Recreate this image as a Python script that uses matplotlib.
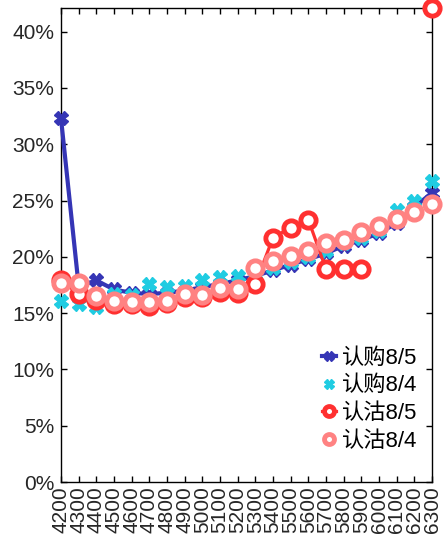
import numpy as np
import matplotlib
matplotlib.use("Agg")
import matplotlib.pyplot as plt
from matplotlib.ticker import FuncFormatter, MultipleLocator

plt.rcParams['font.family'] = ['Liberation Sans', 'Noto Sans CJK SC', 'DejaVu Sans']

strikes = list(range(4200, 6301, 100))
call_0805 = [32.3, 17.4, 17.9, 17.1, 16.8, 16.7, 16.8, 17.0, 17.3, 17.6, 17.9,
             18.3, 18.8, 19.3, 19.8, 20.3, 21.0, 21.5, 22.1, 23.0, 24.4, 25.7]
call_0804 = [16.1, 15.8, 15.5, 16.7, 16.6, 17.6, 17.3, 17.4, 17.9, 18.2, 18.3,
             18.5, 19.0, 19.5, 20.0, 20.5, 21.2, 21.7, 22.3, 24.2, 25.0, 26.7]
put_0805 = [17.9, 16.7, 16.2, 15.8, 15.8, 15.6, 15.9, 16.4, 16.4, 16.9, 16.8,
            17.6, 21.7, 22.6, 23.3, 18.9, 18.9, 18.9, np.nan, np.nan, np.nan, 42.1]
put_0804 = [17.7, 17.7, 16.5, 16.1, 16.0, 16.0, 16.1, 16.7, 16.6, 17.2, 17.1,
            19.0, 19.6, 20.1, 20.5, 21.2, 21.5, 22.2, 22.7, 23.4, 24.0, 24.7]
labels = ['认购8/5', '认购8/4', '认沽8/5', '认沽8/4']
colors = ['#3535B5', '#1FCCE2', '#FF3030', '#FF8282']

fig = plt.figure(figsize=(4.44, 5.41), dpi=100)
ax = fig.add_axes([61/444, 59/541, (432-61)/444, (482-8)/541])

x = np.array(strikes)
ax.plot(x, np.array(call_0805) / 100, color=colors[0], lw=3.0, marker='X',
        ms=10, mec=colors[0], mfc=colors[0], label=labels[0], clip_on=False, zorder=3)
ax.plot(x, np.array(call_0804) / 100, color=colors[1], lw=0, marker='X',
        ms=10, mec=colors[1], mfc=colors[1], label=labels[1], clip_on=False, zorder=4)
ax.plot(x, np.array(put_0805) / 100, color=colors[2], lw=2.3, marker='o',
        ms=11, mec=colors[2], mfc='white', mew=3.5, label=labels[2], clip_on=False, zorder=5)
ax.plot(x, np.array(put_0804) / 100, color=colors[3], lw=0, marker='o',
        ms=11, mec=colors[3], mfc='white', mew=3.5, label=labels[3], clip_on=False, zorder=6)

ax.set_xlim(4200, 6300)
ax.set_ylim(0, 0.421)
ax.set_xticks(strikes)
ax.set_xticklabels([str(s) for s in strikes], rotation=90)
ax.yaxis.set_major_locator(MultipleLocator(0.05))
ax.yaxis.set_major_formatter(FuncFormatter(lambda v, p: f"{v*100:.0f}%"))
ax.tick_params(axis='both', direction='in', length=4, width=1, labelsize=15,
               top=True, right=True, labelcolor='#262626')
ax.tick_params(axis='y', pad=5)
ax.tick_params(axis='x', pad=3)
for s in ax.spines.values():
    s.set_linewidth(1.0)

leg = ax.legend(loc='lower right', bbox_to_anchor=(0.985, 0.045), frameon=False,
                fontsize=16, handlelength=0.6, handletextpad=0.3,
                labelspacing=0.3, markerscale=0.65, borderaxespad=0)

fig.savefig('out.png', dpi=100)
